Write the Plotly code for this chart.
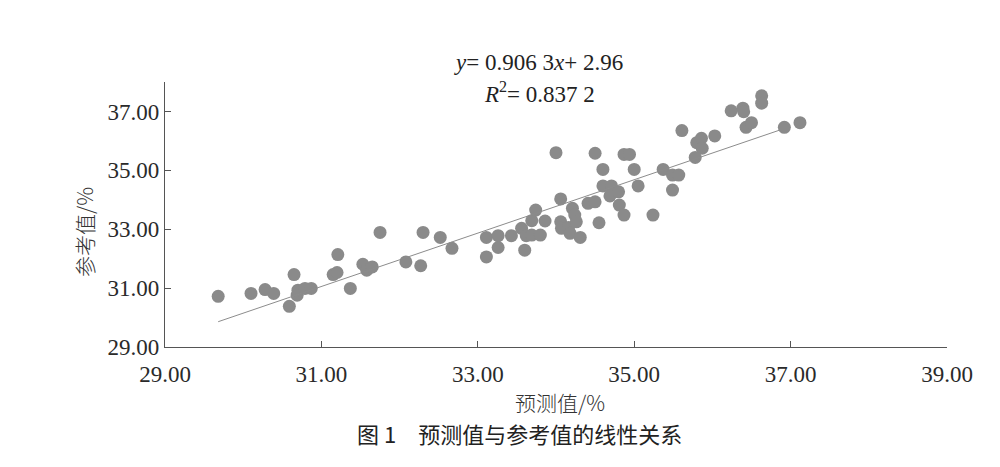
import plotly.graph_objects as go

# Data (predicted %, reference %)
predicted = [29.68, 30.10, 30.28, 30.39, 30.59, 30.65, 30.69, 30.70, 30.79, 30.87,
             31.15, 31.20, 31.21, 31.37, 31.53, 31.58, 31.65, 31.75, 32.08, 32.27,
             32.30, 32.52, 32.67, 33.11, 33.11, 33.26, 33.26, 33.43, 33.56, 33.60,
             33.62, 33.69, 33.74, 33.69, 33.80, 33.86,
             34.00, 34.06, 34.06, 34.07, 34.16, 34.18, 34.21, 34.24, 34.26, 34.31,
             34.41, 34.50, 34.50, 34.55, 34.60, 34.60, 34.69, 34.71, 34.80, 34.81,
             34.87, 34.87, 34.94, 35.00, 35.05, 35.24, 35.37, 35.49, 35.49, 35.57,
             35.61, 35.78, 35.80, 35.86, 35.87, 36.03, 36.24, 36.39, 36.40, 36.43,
             36.50, 36.63, 36.63, 36.92, 37.12]
reference = [30.72, 30.82, 30.95, 30.82, 30.38, 31.46, 30.76, 30.93, 30.99, 30.99,
             31.46, 31.53, 32.14, 30.99, 31.81, 31.61, 31.72, 32.89, 31.89, 31.76,
             32.89, 32.72, 32.35, 32.72, 32.06, 32.78, 32.38, 32.78, 33.03, 32.29,
             32.78, 33.29, 33.65, 32.80, 32.80, 33.28,
             35.60, 34.03, 33.25, 33.03, 33.06, 32.86, 33.71, 33.48, 33.25, 32.72,
             33.88, 33.93, 35.58, 33.22, 35.03, 34.47, 34.13, 34.47, 34.27, 33.82,
             33.48, 35.54, 35.54, 35.03, 34.47, 33.48, 35.03, 34.33, 34.84, 34.84,
             36.35, 35.44, 35.94, 36.09, 35.75, 36.17, 37.02, 37.11, 36.99, 36.46,
             36.62, 37.53, 37.28, 36.46, 36.62]

# Linear fit shown on the chart
slope = 0.9063
intercept = 2.96
fit_x = [29.68, 36.86]
fit_y = [slope * v + intercept for v in fit_x]

x_ticks = [29, 31, 33, 35, 37, 39]
y_ticks = [29, 31, 33, 35, 37]
x_ticktext = ["29.00", "31.00", "33.00", "35.00", "37.00", "39.00"]
y_ticktext = ["29.00", "31.00", "33.00", "35.00", "37.00"]

serif = "Liberation Serif, Times New Roman, serif"
cjk = "Noto Sans CJK SC"

fig = go.Figure()
fig.add_trace(go.Scatter(x=predicted, y=reference, mode="markers",
                         marker=dict(size=13, color="#8a8a8a", line=dict(width=0)),
                         showlegend=False))
fig.add_trace(go.Scatter(x=fit_x, y=fit_y, mode="lines",
                         line=dict(color="#8c8c8c", width=1),
                         showlegend=False))

axis_common = dict(showgrid=False, zeroline=False, showline=True,
                   linecolor="#555555", linewidth=1.2,
                   ticks="inside", ticklen=6, tickcolor="#555555", tickwidth=1,
                   tickfont=dict(family=serif, size=23, color="#2a2a2a"))

fig.update_xaxes(range=[29, 39], tickvals=x_ticks, ticktext=x_ticktext,
                 ticklabelstandoff=6, **axis_common)
fig.update_yaxes(range=[29, 38], tickvals=y_ticks, ticktext=y_ticktext,
                 ticklabelstandoff=0, **axis_common)

annotations = [
    dict(text="<i>y</i>= 0.906 3<i>x</i>+ 2.96", x=0.477, y=1.0717,
         font=dict(family=serif, size=23, color="#222222")),
    dict(text="<i>R</i><sup>2</sup>= 0.837 2", x=0.479, y=0.962,
         font=dict(family=serif, size=23, color="#222222")),
    dict(text="预测值/%", x=0.505, y=-0.2075,
         font=dict(family=cjk, size=21, color="#333333", weight=300)),
    dict(text="参考值/%", x=-0.1036, y=0.434, textangle=-90,
         font=dict(family=cjk, size=21, color="#333333", weight=300)),
    dict(text="图 1\u3000预测值与参考值的线性关系", x=0.4527, y=-0.3245,
         font=dict(family=cjk, size=22, color="#222222")),
]
for a in annotations:
    a.update(xref="paper", yref="paper", showarrow=False,
             xanchor="center", yanchor="middle")
fig.update_layout(annotations=annotations)

# page body has an 8px default margin; compensate so the plot area lands
# at the same on-screen position as in the reference
fig.update_layout(width=1000, height=467,
                  margin=dict(l=157, r=61, t=74, b=128),
                  paper_bgcolor="white", plot_bgcolor="white")

fig.write_html("out.html")
